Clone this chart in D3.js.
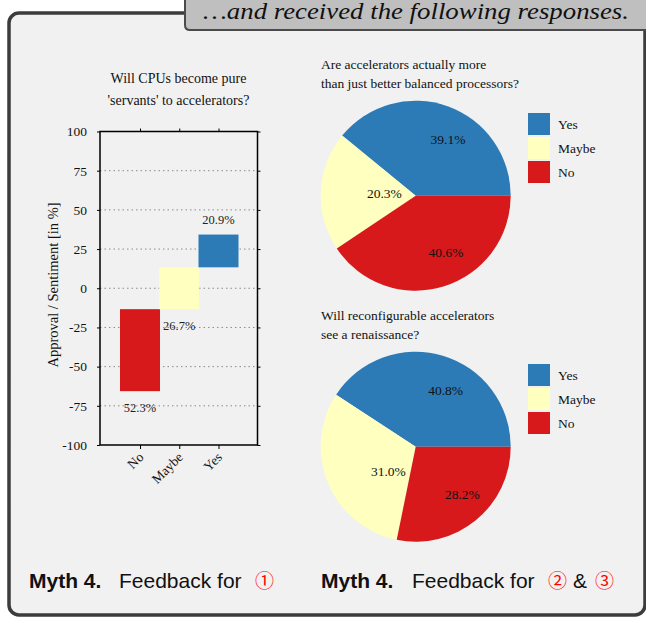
<!DOCTYPE html>
<html><head><meta charset="utf-8">
<script src="https://cdn.jsdelivr.net/npm/d3@7"></script>
<style>body{margin:0;background:#fff}svg{display:block}</style>
</head><body>
<svg id="c" width="646" height="617"></svg>
<script>
// ---------- data ----------
const categories = ["No", "Maybe", "Yes"];
const barValues = [52.3, 26.7, 20.9];
const yTicks = [-100, -75, -50, -25, 0, 25, 50, 75, 100];
const barTitle = ["Will CPUs become pure", "'servants' to accelerators?"];
const yLabel = "Approval / Sentiment [in %]";

const pieCategories = ["Yes", "Maybe", "No"];
const pie1Values = [39.1, 20.3, 40.6];
const pie2Values = [40.8, 31.0, 28.2];
const pie1Title = ["Are accelerators actually more", "than just better balanced processors?"];
const pie2Title = ["Will reconfigurable accelerators", "see a renaissance?"];

const headerText = "\u2026and received the following responses.";

// ---------- styles ----------
const colors = { Yes: "#2c7bb6", Maybe: "#ffffbf", No: "#d7191c" };
const SERIF = "'Liberation Serif','Times New Roman',serif";
const SANS = "'Liberation Sans',Arial,sans-serif";

const svg = d3.select("#c");

// panel
svg.append("rect").attr("x", 9).attr("y", 13).attr("width", 636).attr("height", 602)
  .attr("rx", 10).attr("fill", "#f1f1f1").attr("stroke", "#3c3c3c").attr("stroke-width", 3.5);

// header tab
svg.append("path")
  .attr("d", "M185,-5 L185,25 Q185,30 190,30 L660,30 L660,-5 Z")
  .attr("fill", "#bfbfbf").attr("stroke", "#4a4a4a").attr("stroke-width", 2);
svg.append("text").attr("x", 203).attr("y", 19)
  .attr("font-family", SERIF).attr("font-style", "italic").attr("font-size", 23)
  .attr("textLength", 426).attr("lengthAdjust", "spacingAndGlyphs")
  .attr("fill", "#111").text(headerText);

// ---------- bar chart ----------
const y = d3.scaleLinear().domain([-100, 100]).range([445, 131.5]);
const x = d3.scalePoint().domain(categories).range([140, 218.5]);
const xL = 100, xR = 257.5, barW = 40;

const bc = svg.append("g");
// grid
bc.append("g").selectAll("line").data(yTicks.filter(t => t > -100 && t < 100)).join("line")
  .attr("x1", xL).attr("x2", xR).attr("y1", d => y(d)).attr("y2", d => y(d))
  .attr("stroke", "#8a8a8a").attr("stroke-width", 1).attr("stroke-dasharray", "1.5,3");

// stacked (diverging) bars
const vm = {};
categories.forEach((c, i) => vm[c] = barValues[i]);
const spans = {
  Maybe: [-vm.Maybe / 2, vm.Maybe / 2],
  No: [-vm.Maybe / 2 - vm.No, -vm.Maybe / 2],
  Yes: [vm.Maybe / 2, vm.Maybe / 2 + vm.Yes]
};
bc.append("g").selectAll("rect").data(categories).join("rect")
  .attr("x", d => x(d) - barW / 2).attr("width", barW)
  .attr("y", d => y(spans[d][1])).attr("height", d => y(spans[d][0]) - y(spans[d][1]))
  .attr("fill", d => colors[d]);

// bar value labels
bc.append("g").selectAll("text").data(categories).join("text")
  .attr("x", d => x(d))
  .attr("y", d => d === "Yes" ? y(spans[d][1]) - 11 : y(spans[d][0]) + 21)
  .attr("text-anchor", "middle").attr("font-family", SERIF).attr("font-size", 12.5)
  .attr("fill", "#222")
  .text(d => vm[d].toFixed(1) + "%");

// axes
const axL = bc.append("g").attr("transform", `translate(${xL},0)`)
  .call(d3.axisLeft(y).tickValues(yTicks).tickSize(3).tickPadding(10));
const axR = bc.append("g").attr("transform", `translate(${xR},0)`)
  .call(d3.axisRight(y).tickValues(yTicks).tickSize(3).tickFormat(""));
const axT = bc.append("g").attr("transform", `translate(0,${y(100)})`)
  .call(d3.axisTop(x).tickSize(3).tickFormat(""));
const axB = bc.append("g").attr("transform", `translate(0,${y(-100)})`)
  .call(d3.axisBottom(x).tickSize(4));
[axL, axR, axT, axB].forEach(a => {
  a.select(".domain").remove();
  a.selectAll("line").attr("stroke", "#000");
  a.selectAll("text").attr("font-family", SERIF).attr("font-size", 13.5).attr("fill", "#111");
});
axL.selectAll("text").text(d => d);
axB.selectAll("text")
  .attr("text-anchor", "end").attr("dy", 0).attr("y", 0).attr("x", 0)
  .attr("transform", "translate(4,13) rotate(-45)");
// frame
bc.append("rect").attr("x", xL).attr("y", y(100)).attr("width", xR - xL)
  .attr("height", y(-100) - y(100)).attr("fill", "none").attr("stroke", "#000").attr("stroke-width", 1.5);

// titles
bc.append("g").selectAll("text").data(barTitle).join("text")
  .attr("x", 178.5).attr("y", (d, i) => 82.5 + i * 22)
  .attr("text-anchor", "middle").attr("font-family", SERIF).attr("font-size", 14)
  .attr("fill", "#111").text(d => d);
bc.append("text").attr("transform", "translate(58,285) rotate(-90)")
  .attr("text-anchor", "middle").attr("font-family", SERIF).attr("font-size", 14.5)
  .attr("fill", "#111").text(yLabel);

// ---------- pies ----------
const R = 95;
const pieGen = d3.pie().sort(null).value(d => d)
  .startAngle(Math.PI / 2).endAngle(Math.PI / 2 - 2 * Math.PI);
const arc = d3.arc().innerRadius(0).outerRadius(R);

function drawPie(values, cx, cy, title, titleY, labelPolar, legendY) {
  const g = svg.append("g");
  g.append("g").selectAll("text").data(title).join("text")
    .attr("x", 321).attr("y", (d, i) => titleY + i * 19)
    .attr("font-family", SERIF).attr("font-size", 13.5).attr("fill", "#111").text(d => d);
  const pg = g.append("g").attr("transform", `translate(${cx},${cy})`);
  const arcs = pieGen(values);
  pg.selectAll("path").data(arcs).join("path")
    .attr("d", arc).attr("fill", (d, i) => colors[pieCategories[i]]);
  pg.selectAll("text").data(arcs).join("text")
    .attr("x", (d, i) => R * labelPolar[i][1] * Math.cos(labelPolar[i][0] * Math.PI / 180))
    .attr("y", (d, i) => -R * labelPolar[i][1] * Math.sin(labelPolar[i][0] * Math.PI / 180))
    .attr("dy", "0.35em").attr("text-anchor", "middle")
    .attr("font-family", SERIF).attr("font-size", 13.5).attr("fill", "#111")
    .text(d => d.value.toFixed(1) + "%");
  const lg = g.append("g");
  lg.selectAll("rect").data(pieCategories).join("rect")
    .attr("x", 528).attr("y", (d, i) => legendY + i * 24).attr("width", 22).attr("height", 22)
    .attr("fill", d => colors[d]);
  lg.selectAll("text").data(pieCategories).join("text")
    .attr("x", 558).attr("y", (d, i) => legendY + i * 24 + 11).attr("dy", "0.35em")
    .attr("font-family", SERIF).attr("font-size", 13.5).attr("fill", "#111").text(d => d);
}
drawPie(pie1Values, 415.7, 195.7, pie1Title, 69, [[60, 0.68], [176, 0.33], [-62, 0.68]], 113);
drawPie(pie2Values, 415.7, 446.7, pie2Title, 320, [[62, 0.67], [221.6, 0.385], [-45.4, 0.70]], 364);

// ---------- captions ----------
function caption(parts) {
  const t = svg.append("text").attr("y", 588).attr("font-family", SANS).attr("font-size", 21).attr("fill", "#111");
  parts.forEach(p => {
    const s = t.append("tspan").attr("x", p.x).text(p.t);
    if (p.b) s.attr("font-weight", "bold");
    if (p.red) s.attr("fill", "#ff0000").attr("font-family", "'Noto Sans CJK JP','DejaVu Sans',sans-serif").attr("font-size", 19);
  });
}
caption([{ x: 29, t: "Myth 4.", b: true }, { x: 119, t: "Feedback for" }, { x: 255, t: "\u2460", red: true }]);
caption([{ x: 321, t: "Myth 4.", b: true }, { x: 412, t: "Feedback for" }, { x: 548, t: "\u2461", red: true },
  { x: 573, t: "&" }, { x: 595, t: "\u2462", red: true }]);
</script>
</body></html>
